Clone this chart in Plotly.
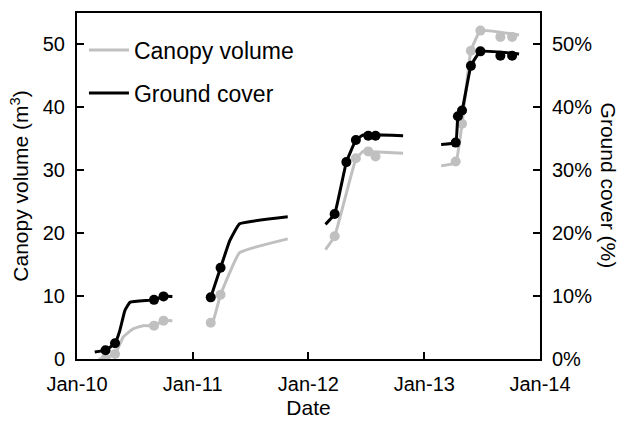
import plotly.graph_objects as go

# ---- Canopy volume (m3): fitted curve, one segment per growing season ----
canopy_line_dates = [
    "2010-03-10", "2010-04-01", "2010-05-01", "2010-05-27", "2010-06-27", "2010-07-28", "2010-09-01", "2010-10-01", "2010-10-29", None,
    "2011-02-27", "2011-03-05", "2011-03-30", "2011-05-29", "2011-10-28", None,
    "2012-02-24", "2012-03-24", "2012-05-30", "2012-06-22", "2012-07-08", "2012-10-26", None,
    "2013-02-23", "2013-04-10", "2013-04-30", "2013-05-28", "2013-06-27", "2013-10-27",
]
canopy_line_values = [
    0.0, 0.1, 0.8, 3.5, 4.8, 5.3, 5.3, 6.1, 6.1, None,
    5.75, 5.8, 10.2, 16.9, 19.1, None,
    17.4, 19.5, 31.8, 33.0, 33.0, 32.7, None,
    30.7, 31.2, 37.4, 49.0, 52.2, 51.5,
]

# ---- Canopy volume (m3): field measurements ----
canopy_obs_dates = [
    "2010-04-01", "2010-05-01", "2010-09-01", "2010-10-01",
    "2011-02-27", "2011-03-30",
    "2012-03-24", "2012-05-30", "2012-07-08", "2012-07-31",
    "2013-04-10", "2013-04-30", "2013-05-28", "2013-06-27", "2013-08-29", "2013-10-05",
]
canopy_obs_values = [
    0.1, 0.8, 5.3, 6.1,
    5.75, 10.2,
    19.5, 31.9, 33.0, 32.2,
    31.4, 37.4, 49.0, 52.2, 51.2, 51.2,
]

# ---- Ground cover (%): fitted curve ----
ground_line_dates = [
    "2010-02-26", "2010-04-01", "2010-05-01", "2010-05-16", "2010-06-01", "2010-06-17", "2010-09-01", "2010-10-01", "2010-10-29", None,
    "2011-02-27", "2011-03-30", "2011-04-28", "2011-05-29", "2011-10-28", None,
    "2012-02-24", "2012-03-24", "2012-04-30", "2012-05-30", "2012-06-22", "2012-10-26", None,
    "2013-02-23", "2013-04-10", "2013-04-17", "2013-04-30", "2013-05-28", "2013-06-27", "2013-10-27",
]
ground_line_values = [
    1.1, 1.4, 2.5, 4.5, 7.7, 9.0, 9.4, 9.95, 9.95, None,
    9.8, 14.5, 18.8, 21.5, 22.6, None,
    21.4, 23.05, 31.3, 34.8, 35.6, 35.5, None,
    34.1, 34.4, 38.6, 39.5, 46.6, 48.9, 48.5,
]

# ---- Ground cover (%): field measurements ----
ground_obs_dates = [
    "2010-04-01", "2010-05-01", "2010-09-01", "2010-10-01",
    "2011-02-27", "2011-03-30",
    "2012-03-24", "2012-04-30", "2012-05-30", "2012-07-08", "2012-07-31",
    "2013-04-10", "2013-04-17", "2013-04-30", "2013-05-28", "2013-06-27", "2013-08-29", "2013-10-05",
]
ground_obs_values = [
    1.4, 2.5, 9.4, 9.95,
    9.8, 14.5,
    23.05, 31.3, 34.8, 35.5, 35.5,
    34.4, 38.6, 39.5, 46.6, 48.9, 48.2, 48.2,
]

x_tick_dates = ["2010-01-01", "2011-01-01", "2012-01-01", "2013-01-01", "2014-01-01"]
x_tick_labels = ["Jan-10", "Jan-11", "Jan-12", "Jan-13", "Jan-14"]
y_ticks = [0, 10, 20, 30, 40, 50]
y_tick_labels_left = [str(v) for v in y_ticks]
y_tick_labels_right = [f"{v}%" for v in y_ticks]

GRAY = "#c0c0c0"
BLACK = "#000000"
FONT = "Liberation Sans, Arial, sans-serif"

fig = go.Figure()

fig.add_trace(go.Scatter(
    x=canopy_line_dates, y=canopy_line_values, mode="lines",
    line=dict(color=GRAY, width=3, shape="spline", smoothing=0.3),
    name="Canopy volume", legendgroup="canopy", connectgaps=False,
))
fig.add_trace(go.Scatter(
    x=canopy_obs_dates, y=canopy_obs_values, mode="markers",
    marker=dict(color=GRAY, size=10), showlegend=False, legendgroup="canopy",
))
fig.add_trace(go.Scatter(
    x=ground_line_dates, y=ground_line_values, mode="lines", yaxis="y2",
    line=dict(color=BLACK, width=3, shape="spline", smoothing=0.3),
    name="Ground cover", legendgroup="ground", connectgaps=False,
))
fig.add_trace(go.Scatter(
    x=ground_obs_dates, y=ground_obs_values, mode="markers", yaxis="y2",
    marker=dict(color=BLACK, size=10), showlegend=False, legendgroup="ground",
))

axis_common = dict(
    showline=True, linecolor="black", linewidth=2,
    ticks="inside", ticklen=7, tickwidth=1.5, tickcolor="black",
    showgrid=False, zeroline=False,
    tickfont=dict(family=FONT, size=20, color="black"),
)

fig.update_layout(
    width=627, height=431,
    margin=dict(l=77, r=87, t=11, b=72),
    paper_bgcolor="white", plot_bgcolor="white",
    font=dict(family=FONT, color="black"),
    xaxis=dict(
        **axis_common, type="date",
        range=["2010-01-01", "2014-01-01"],
        tickvals=x_tick_dates, ticktext=x_tick_labels,
        mirror=True, ticklabelstandoff=6,
        title=dict(text="Date", font=dict(family=FONT, size=21), standoff=6),
    ),
    yaxis=dict(
        **axis_common, range=[0, 55],
        tickvals=y_ticks, ticktext=y_tick_labels_left,
        ticklabelstandoff=6,
        title=dict(text="Canopy volume (m<sup>3</sup>)", font=dict(family=FONT, size=21), standoff=8),
    ),
    yaxis2=dict(
        **axis_common, range=[0, 55],
        tickvals=y_ticks, ticktext=y_tick_labels_right,
        overlaying="y", side="right", ticklabelstandoff=6,
    ),
    legend=dict(
        x=0.015, y=0.955, xanchor="left", yanchor="top",
        bgcolor="rgba(0,0,0,0)", borderwidth=0,
        font=dict(family=FONT, size=23, color="black"),
        tracegroupgap=10, itemwidth=40,
    ),
    annotations=[dict(
        text="Ground cover (%)", textangle=90,
        xref="paper", yref="paper", x=1.15, y=0.5,
        xanchor="center", yanchor="middle", showarrow=False,
        font=dict(family=FONT, size=21, color="black"),
    )],
)

fig.write_html("out.html")
